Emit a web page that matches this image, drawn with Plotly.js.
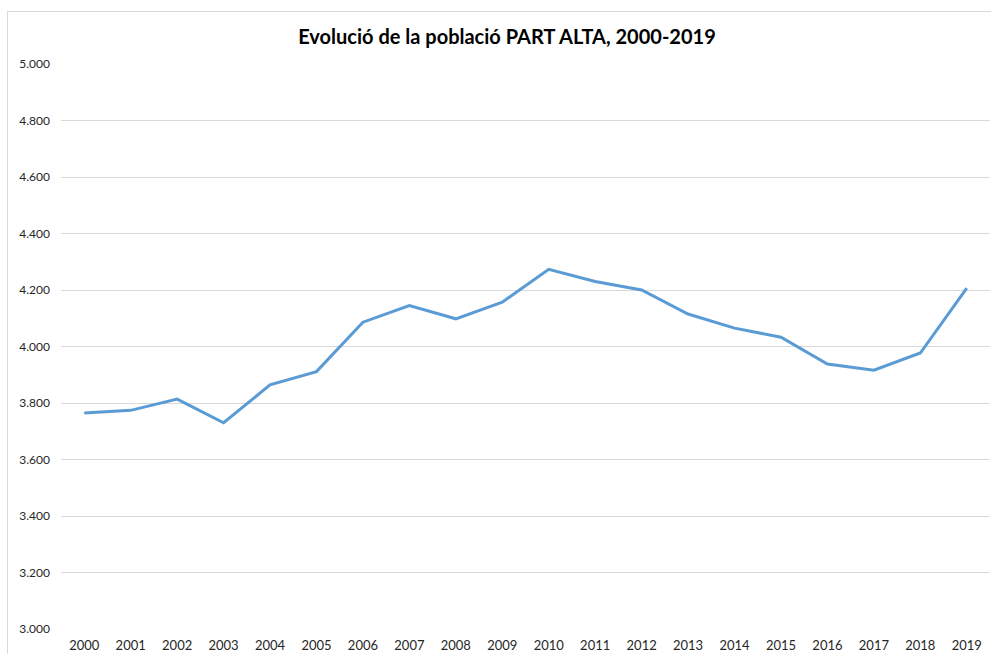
<!DOCTYPE html>
<html>
<head>
<meta charset="utf-8">
<script src="https://cdn.plot.ly/plotly-3.0.1.min.js"></script>
<style>
html,body{margin:0;padding:0;background:#fff;overflow:hidden;width:991px;height:654px;}
#frame{position:absolute;left:7px;top:11px;width:1100px;height:700px;border:1px solid #d9d9d9;box-sizing:border-box;}
#chart{position:absolute;left:0;top:0;width:991px;height:654px;}
</style>
</head>
<body>
<div id="frame"></div>
<div id="chart"></div>
<script>
const years = ["2000","2001","2002","2003","2004","2005","2006","2007","2008","2009","2010","2011","2012","2013","2014","2015","2016","2017","2018","2019"];
const population = [3765,3774,3814,3730,3864,3911,4086,4145,4098,4157,4273,4230,4200,4115,4065,4033,3938,3916,3977,4207];
const yTicks = [3000,3200,3400,3600,3800,4000,4200,4400,4600,4800,5000];
const titleText = "Evolució de la població PART ALTA, 2000-2019";

const trace = {
  x: years,
  y: population,
  type: "scatter",
  mode: "lines",
  line: {color: "#5B9BD5", width: 3},
  hoverinfo: "x+y"
};

const layout = {
  width: 991,
  height: 654,
  paper_bgcolor: "rgba(0,0,0,0)",
  plot_bgcolor: "rgba(0,0,0,0)",
  margin: {l: 61, r: 1, t: 64, b: 25},
  separators: ",.",
  showlegend: false,
  font: {family: "Lato, 'Open Sans', sans-serif", size: 12, color: "#404040"},
  title: {
    text: "<b>" + titleText + "</b>",
    font: {family: "Lato, 'Open Sans', sans-serif", size: 20, color: "#000"},
    xref: "container", x: 507/991, xanchor: "center",
    yref: "container", y: 1 - 37/654, yanchor: "middle"
  },
  xaxis: {
    type: "category",
    range: [-0.5, years.length - 0.5],
    showgrid: false,
    showline: false,
    zeroline: false,
    ticks: "",
    ticklabelstandoff: 7,
    tickfont: {size: 13, color: "#262626"}
  },
  yaxis: {
    range: [3000, 5000],
    tickvals: yTicks,
    ticktext: yTicks.map(v => (v/1000).toFixed(3)),
    tickmode: "array",
    showgrid: true,
    gridcolor: "#d9d9d9",
    gridwidth: 1,
    zeroline: false,
    showline: false,
    ticks: "",
    ticklabelstandoff: 10,
    tickfont: {size: 12, color: "#262626"}
  }
};

Plotly.newPlot("chart", [trace], layout, {displayModeBar: false, staticPlot: true});
</script>
</body>
</html>
